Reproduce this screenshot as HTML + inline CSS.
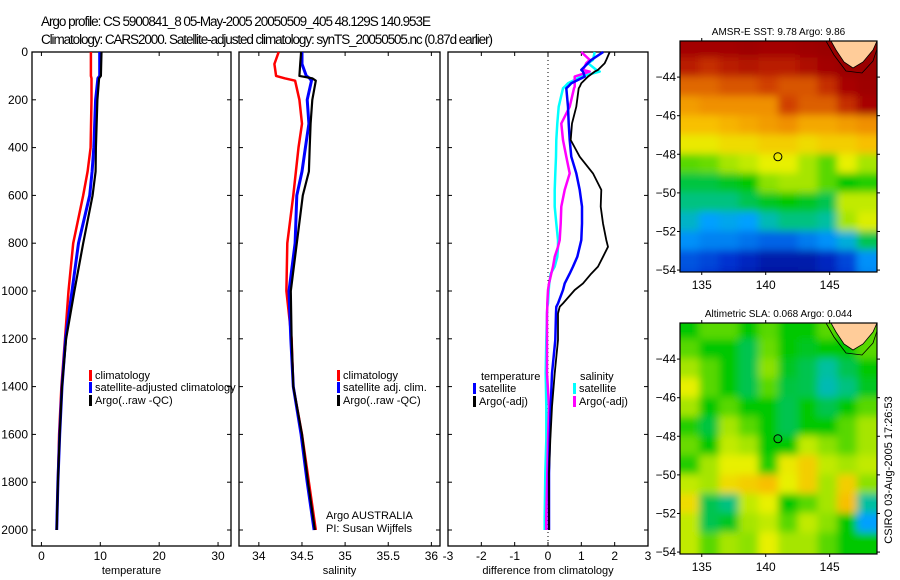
<!DOCTYPE html>
<html><head><meta charset="utf-8"><style>
body{margin:0;background:#fff}
svg{display:block;font-family:"Liberation Sans",sans-serif}
</style></head><body>
<svg id="fig" width="900" height="580" viewBox="0 0 900 580">
<defs>
<filter id="bl1" filterUnits="userSpaceOnUse" x="670" y="30" width="220" height="255"><feGaussianBlur stdDeviation="4"/></filter>
<filter id="bl2" filterUnits="userSpaceOnUse" x="670" y="312" width="220" height="255"><feGaussianBlur stdDeviation="4"/></filter>
<clipPath id="c1"><rect x="680" y="41" width="197" height="231"/></clipPath>
<clipPath id="c2"><rect x="680" y="323" width="197" height="231"/></clipPath>
</defs>
<text x="41" y="26" font-size="13.5" textLength="390">Argo profile: CS 5900841_8 05-May-2005 20050509_405 48.129S 140.953E</text>
<text x="41" y="44" font-size="13.5" textLength="452">Climatology: CARS2000. Satellite-adjusted climatology: synTS_20050505.nc (0.87d earlier)</text>
<g id="root"></g>
</svg>
<script>
// ---- data ----
const tDepth = [0,100,110,200,400,500,600,800,1000,1200,1400,1600,1800,2000];
const tClim  = [8.4,8.4,8.5,8.5,8.35,7.85,7.1,5.4,4.6,4.0,3.4,3.0,2.8,2.6];
const tSat   = [9.9,9.9,9.6,9.2,8.9,8.6,8.2,6.3,5.2,4.1,3.5,3.1,2.8,2.6];
const tArgo  = [10.2,10.1,9.8,9.5,9.25,9.2,8.7,7.1,5.6,4.2,3.5,3.1,2.8,2.6];
const sDepth = [0,50,100,110,120,200,300,400,500,600,800,1000,1200,1400,1600,1800,2000];
const sClim  = [34.23,34.18,34.2,34.3,34.42,34.47,34.5,34.46,34.43,34.4,34.33,34.32,34.38,34.4,34.5,34.58,34.66];
const sSat   = [34.5,34.5,34.55,34.59,34.61,34.56,34.58,34.54,34.5,34.44,34.42,34.35,34.37,34.4,34.49,34.56,34.64];
const sArgo  = [34.49,34.48,34.47,34.62,34.66,34.62,34.6,34.59,34.58,34.51,34.44,34.37,34.38,34.4,34.5,34.57,34.65];
const dDepth = [0,33,47,75,82,103,131,145,152,229,299,368,438,508,577,647,717,787,815,857,898,927,968,996,1052,1066,1094,1205,1345,1484,1624,1763,1945,2000];
const dTSat  = [1.66,1.3,1.2,1.0,1.05,1.1,0.7,0.6,0.55,0.6,0.62,0.65,0.7,0.85,0.95,1.02,1.02,1.0,0.95,0.88,0.75,0.65,0.5,0.45,0.3,0.25,0.24,0.22,0.12,0.08,0.05,0.03,0.03,0.03];
const dTArgo = [1.85,1.75,1.7,1.5,1.4,1.2,1.0,0.95,0.92,0.85,0.72,0.68,0.95,1.35,1.6,1.58,1.65,1.75,1.8,1.65,1.5,1.3,1.05,0.8,0.45,0.35,0.3,0.3,0.2,0.12,0.07,0.03,0.03,0.03];
const dSSat  = [1.4,1.35,1.2,1.45,1.55,1.0,0.6,0.5,0.45,0.32,0.28,0.25,0.24,0.22,0.2,0.2,0.25,0.3,0.3,0.28,0.2,0.08,0.04,0.02,0,-0.02,-0.03,-0.05,-0.07,-0.05,-0.05,-0.08,-0.1,-0.1];
const dSArgo = [1.0,1.25,1.15,1.05,1.25,0.8,0.8,0.8,0.78,0.65,0.4,0.45,0.55,0.65,0.5,0.4,0.38,0.35,0.3,0.2,0.15,0.1,0.03,0,-0.02,-0.02,-0.03,-0.03,-0.03,0.03,0,-0.02,-0.05,-0.05];
const depthTicks = [0,200,400,600,800,1000,1200,1400,1600,1800,2000];
const tTicks = [0,10,20,30];
const sTicks = [34,34.5,35,35.5,36];
const dTicks = [-3,-2,-1,0,1,2,3];
const latTicks = [-44,-46,-48,-50,-52,-54];
const lonTicks = [135,140,145];
const argoLat = -48.129, argoLon = 140.953;
const sstGrid = [
[.96,.96,.96,.97,.96,.96,.97,.98,.98,.98],
[.92,.9,.92,.93,.92,.92,.94,.96,.98,.98],
[.84,.84,.86,.86,.88,.86,.86,.9,.95,.97],
[.78,.8,.8,.8,.8,.88,.85,.85,.9,.95],
[.72,.72,.74,.76,.78,.8,.76,.76,.78,.8],
[.66,.66,.68,.68,.7,.7,.68,.7,.7,.72],
[.55,.56,.6,.62,.65,.65,.6,.55,.65,.6],
[.46,.46,.48,.5,.58,.6,.6,.55,.5,.52],
[.42,.42,.42,.45,.48,.5,.48,.45,.62,.62],
[.36,.3,.32,.3,.38,.42,.42,.4,.6,.64],
[.28,.26,.26,.24,.22,.22,.25,.28,.34,.45],
[.2,.18,.15,.12,.08,.08,.08,.12,.18,.28],
[.18,.15,.12,.08,.05,.05,.06,.1,.16,.26]];
const slaGrid = [
[.5,.55,.55,.5,.55,.5,.5,.55,.5,.55],
[.55,.5,.5,.45,.56,.5,.48,.5,.5,.55],
[.6,.55,.5,.45,.58,.48,.45,.4,.45,.5],
[.65,.55,.5,.45,.55,.46,.45,.38,.42,.48],
[.6,.5,.55,.5,.5,.45,.5,.45,.5,.55],
[.52,.46,.6,.55,.5,.45,.5,.5,.55,.6],
[.56,.5,.62,.6,.5,.5,.62,.58,.55,.6],
[.52,.6,.65,.65,.52,.66,.7,.62,.6,.62],
[.62,.6,.68,.7,.72,.65,.7,.6,.7,.58],
[.68,.45,.42,.62,.65,.5,.55,.6,.72,.4],
[.62,.45,.48,.6,.62,.55,.62,.58,.5,.3],
[.62,.55,.6,.58,.65,.6,.6,.55,.5,.5],
[.62,.55,.6,.58,.65,.6,.6,.55,.5,.5]];

const NS='http://www.w3.org/2000/svg';
const root=document.getElementById('root');
function mk(tag,attrs,parent){const e=document.createElementNS(NS,tag);for(const k in attrs)e.setAttribute(k,attrs[k]);(parent||root).appendChild(e);return e;}
function txt(x,y,s,size,anchor,parent){const t=mk('text',{x:x,y:y,'font-size':size,'text-anchor':anchor||'start'},parent);t.textContent=s;return t;}

const yTop=52, yPer=0.239;
function yD(d){return yTop+d*yPer;}

function panel(name,x0,x1,vmin,vmax,ticks,title,showY){
  const g=mk('g',{});
  
  
  const sx=v=>x0+(v-vmin)/(vmax-vmin)*(x1-x0);
  mk('rect',{x:x0,y:yTop,width:x1-x0,height:494,fill:'none',stroke:'#000','stroke-width':1.3},g);
  ticks.forEach(v=>{const x=sx(v);
    mk('line',{x1:x,x2:x,y1:yTop,y2:yTop+4,stroke:'#000'},g);
    mk('line',{x1:x,x2:x,y1:546,y2:542,stroke:'#000'},g);
    const t=txt(x,560,String(v),12,'middle',g);
    
    
  });
  depthTicks.forEach(d=>{const y=yD(d);
    mk('line',{x1:x0,x2:x0+4,y1:y,y2:y,stroke:'#000'},g);
    mk('line',{x1:x1,x2:x1-4,y1:y,y2:y,stroke:'#000'},g);
    if(showY){const t=txt(x0-4,y+4,String(d),12,'end',g);
      
      }
  });
  const tt=txt((x0+x1)/2,574,title,11,'middle',g);
  
  
  return {g,sx};
}
function line(p,depths,vals,color,w,name){
  const pts=depths.map((d,i)=>p.sx(vals[i]).toFixed(1)+','+yD(d).toFixed(1)).join(' ');
  const l=mk('polyline',{points:pts,fill:'none',stroke:color,'stroke-width':w,'stroke-linejoin':'round'},p.g);
  
  
}
function legend(g,x,y,color,label){
  mk('rect',{x:x,y:y-9,width:3,height:11,fill:color},g);
  const t=txt(x+6,y,label,11,'start',g);
  
  
}

const p1=panel('temperature-panel',32,231,-1.6,32.2,tTicks,'temperature',true);
line(p1,tDepth,tClim,'#f00',2.5,'temp-climatology-line');
line(p1,tDepth,tSat,'#00f',3,'temp-satellite-line');
line(p1,tDepth,tArgo,'#000',2.2,'temp-argo-line');
legend(p1.g,89,379,'#f00','climatology');
legend(p1.g,89,391,'#00f','satellite-adjusted climatology');
legend(p1.g,89,404,'#000','Argo(..raw -QC)');

const p2=panel('salinity-panel',239,440,33.77,36.1,sTicks,'salinity',false);
line(p2,sDepth,sClim,'#f00',2.5,'sal-climatology-line');
line(p2,sDepth,sSat,'#00f',3,'sal-satellite-line');
line(p2,sDepth,sArgo,'#000',2.2,'sal-argo-line');
legend(p2.g,337,379,'#f00','climatology');
legend(p2.g,337,391,'#00f','satellite adj. clim.');
legend(p2.g,337,404,'#000','Argo(..raw -QC)');
let a=txt(326,519,'Argo AUSTRALIA',11,'start',p2.g);


a=txt(326,532,'PI: Susan Wijffels',11,'start',p2.g);



const p3=panel('difference-panel',448,648,-3,3,dTicks,'difference from climatology',false);
mk('line',{x1:p3.sx(0),x2:p3.sx(0),y1:yTop,y2:546,stroke:'#000','stroke-dasharray':'1,3'},p3.g);
line(p3,dDepth,dSSat,'#0ff',2.5,'diff-sal-satellite-line');
line(p3,dDepth,dSArgo,'#f0f',2.5,'diff-sal-argo-line');
line(p3,dDepth,dTSat,'#00f',2.5,'diff-temp-satellite-line');
line(p3,dDepth,dTArgo,'#000',1.8,'diff-temp-argo-line');
a=txt(481,380,'temperature',11,'start',p3.g);


legend(p3.g,473,392,'#00f','satellite');
legend(p3.g,473,405,'#000','Argo(-adj)');
a=txt(580,380,'salinity',11,'start',p3.g);


legend(p3.g,573,392,'#0ff','satellite');
legend(p3.g,573,405,'#f0f','Argo(-adj)');

const cmapStops=[[0,[0,0,128]],[.15,[0,48,208]],[.3,[0,160,255]],[.4,[0,192,160]],[.5,[0,200,0]],[.58,[140,225,0]],[.65,[232,240,0]],[.72,[248,192,0]],[.8,[240,144,0]],[.88,[208,64,0]],[.95,[168,0,0]],[1,[144,0,0]]];
function cmap(v){v=Math.max(0,Math.min(1,v));
  for(let i=1;i<cmapStops.length;i++){if(v<=cmapStops[i][0]){const [a0,c0]=cmapStops[i-1],[a1,c1]=cmapStops[i];const f=(v-a0)/(a1-a0);
    return 'rgb('+c0.map((c,k)=>Math.round(c+(c1[k]-c)*f)).join(',')+')';}}
  return 'rgb(144,0,0)';}

function map(name,top,grid,title,clip,filt){
  const g=mk('g',{});
  
  
  const L=680,R=877,lon0=133.3,lon1=148.7,lat0=-42.13,lat1=-54.1;
  const sx=v=>L+(v-lon0)/(lon1-lon0)*(R-L);
  const sy=v=>top+(v-lat0)/(lat1-lat0)*231;
  const cg=mk('g',{'clip-path':'url(#'+clip+')'},g);
  const ig=mk('g',{filter:'url(#'+filt+')'},cg);
  const cw=(lon1-lon0)/grid[0].length;
  grid.forEach((row,i)=>row.forEach((v,j)=>{
    let x=sx(lon0+j*cw), y=sy(-42-i), x2=sx(lon0+(j+1)*cw), y2=sy(-43-i);
    if(j===0)x-=12; if(j===row.length-1)x2+=12; if(i===0)y-=12; if(i===grid.length-1)y2+=12;
    const c=mk('rect',{x:x-0.5,y:y-0.5,width:x2-x+1,height:y2-y+1,fill:cmap(v)},ig);
    
    
  }));
  const land=mk('polygon',{points:[[831,0],[877,0],[873,9],[863,21],[853,27],[844,21],[836,9]].map(p=>p[0]+','+(top+p[1])).join(' '),fill:'#ffcc99',stroke:'#000','stroke-width':0.8},cg);
  
  
  mk('polyline',{points:[[826,0],[834,14],[846,30],[862,32],[873,20],[878,5]].map(p=>p[0]+','+(top+p[1])).join(' '),fill:'none',stroke:'#000','stroke-width':0.8},cg);
  mk('rect',{x:L,y:top,width:R-L,height:231,fill:'none',stroke:'#000','stroke-width':1.2},g);
  latTicks.forEach(v=>{const y=sy(v);
    mk('line',{x1:L-3,x2:L,y1:y,y2:y,stroke:'#000'},g);
    mk('line',{x1:R,x2:R+3,y1:y,y2:y,stroke:'#000'},g);
    const t=txt(L-4,y+4,String(v).replace('-','\u2212'),12,'end',g);
    
    });
  lonTicks.forEach(v=>{const x=sx(v);
    mk('line',{x1:x,x2:x,y1:top-3,y2:top,stroke:'#000'},g);
    mk('line',{x1:x,x2:x,y1:top+231,y2:top+234,stroke:'#000'},g);
    const t=txt(x,top+248,String(v),12,'middle',g);
    
    });
  const c=mk('circle',{cx:sx(argoLon),cy:sy(argoLat),r:4,fill:'none',stroke:'#000','stroke-width':1},g);
  
  
  const t=txt((L+R)/2,top-6,title,10,'middle',g);
  
  
}
map('sst-map',41,sstGrid,'AMSR-E SST: 9.78 Argo: 9.86','c1','bl1');
map('sla-map',323,slaGrid,'Altimetric SLA: 0.068 Argo: 0.044','c2','bl2');
const st=txt(0,0,'CSIRO 03-Aug-2005 17:26:53',11,'middle');
st.setAttribute('transform','translate(892,470) rotate(-90)');


</script>
</body></html>
